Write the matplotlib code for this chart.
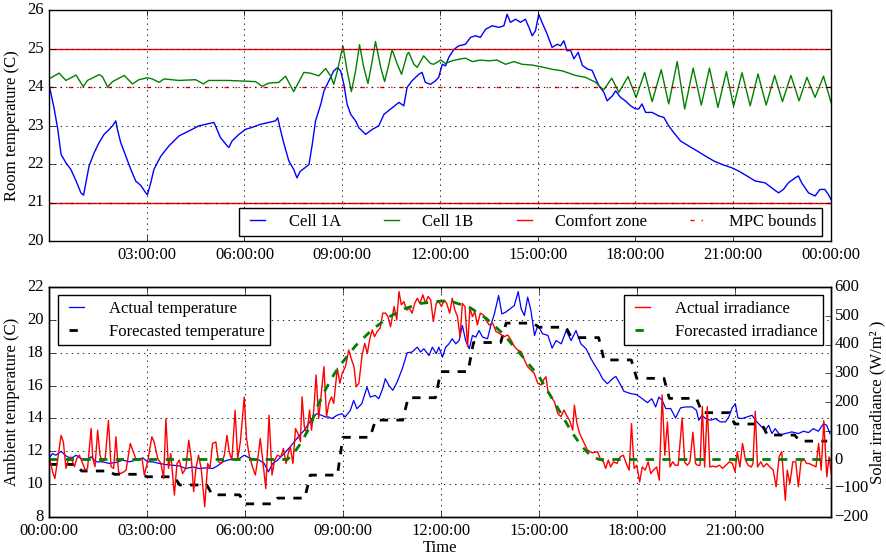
import numpy as np
import matplotlib
matplotlib.use('Agg')
import matplotlib.pyplot as plt
from matplotlib.ticker import FuncFormatter, MultipleLocator

# ---- Room temperatures (hours since midnight, deg C) ----
cell1a_hours = [0.0, 0.03, 0.16, 0.27, 0.37, 0.52, 0.67, 0.83, 0.98, 1.06, 1.13, 1.23, 1.39, 1.54,
                1.69, 1.85, 1.95, 2.05, 2.1, 2.2, 2.36, 2.51, 2.66, 2.82, 2.97, 3.02, 3.12, 3.22,
                3.43, 3.68, 3.99, 4.3, 4.6, 4.81, 5.06, 5.11, 5.26, 5.47, 5.52, 5.62, 5.83, 6.03,
                6.23, 6.49, 6.74, 6.95, 7.02, 7.1, 7.2, 7.36, 7.51, 7.61, 7.71, 7.85, 7.98, 8.08,
                8.18, 8.34, 8.44, 8.59, 8.74, 8.85, 8.95, 9.05, 9.15, 9.26, 9.41, 9.51, 9.72,
                9.92, 10.12, 10.28, 10.53, 10.74, 10.89, 10.99, 11.14, 11.35, 11.45, 11.55, 11.71,
                11.86, 11.96, 12.07, 12.17, 12.27, 12.43, 12.58, 12.78, 12.94, 13.09, 13.24, 13.4,
                13.6, 13.81, 13.96, 14.06, 14.16, 14.32, 14.47, 14.62, 14.73, 14.83, 14.93, 15.03,
                15.13, 15.29, 15.44, 15.6, 15.7, 15.8, 15.9, 16.01, 16.11, 16.24, 16.37, 16.52,
                16.67, 16.78, 16.88, 17.03, 17.13, 17.29, 17.39, 17.54, 17.69, 17.85, 18.0, 18.1,
                18.2, 18.31, 18.51, 18.71, 18.87, 19.02, 19.17, 19.38, 19.63, 19.89, 20.14, 20.4,
                20.65, 20.96, 21.16, 21.42, 21.67, 21.98, 22.18, 22.39, 22.54, 22.69, 22.9, 23.0,
                23.1, 23.31, 23.51, 23.66, 23.81, 23.92, 24.0]
cell1a_temp = [24.0, 23.95, 23.43, 22.9, 22.25, 22.03, 21.86, 21.56, 21.25, 21.19, 21.5, 21.95, 22.3,
               22.56, 22.77, 22.9, 22.99, 23.12, 22.9, 22.56, 22.2, 21.86, 21.56, 21.44, 21.25, 21.2,
               21.5, 21.86, 22.2, 22.47, 22.73, 22.86, 22.99, 23.03, 23.08, 22.99, 22.69, 22.47,
               22.43, 22.6, 22.77, 22.9, 22.95, 23.03, 23.08, 23.12, 23.2, 22.9, 22.56, 22.08, 21.86,
               21.64, 21.81, 21.9, 21.99, 22.51, 23.12, 23.55, 23.9, 24.16, 24.42, 24.5, 24.42,
               24.07, 23.55, 23.29, 23.12, 22.94, 22.77, 22.9, 22.99, 23.29, 23.46, 23.6, 23.51,
               23.99, 24.16, 24.33, 24.38, 24.12, 24.07, 24.16, 24.25, 24.59, 24.55, 24.77, 24.98,
               25.07, 25.11, 25.29, 25.33, 25.29, 25.5, 25.59, 25.55, 25.59, 25.89, 25.68, 25.76,
               25.68, 25.76, 25.55, 25.33, 25.46, 25.89, 25.68, 25.37, 25.03, 25.11, 25.07, 25.2,
               24.94, 24.95, 24.73, 24.9, 24.56, 24.47, 24.43, 24.21, 24.03, 23.86, 23.64, 23.77,
               23.9, 23.73, 23.64, 23.51, 23.43, 23.43, 23.56, 23.34, 23.34, 23.25, 23.21, 22.99,
               22.82, 22.6, 22.47, 22.34, 22.21, 22.08, 21.99, 21.9, 21.82, 21.69, 21.56, 21.51,
               21.38, 21.25, 21.34, 21.51, 21.64, 21.69, 21.51, 21.25, 21.17, 21.34, 21.34, 21.21,
               21.08]

cell1b_hours = [0.0, 0.31, 0.52, 0.83, 1.05, 1.18, 1.54, 1.64, 1.8, 1.95, 2.31, 2.56, 2.76, 3.02,
                3.17, 3.38, 3.53, 3.99, 4.5, 4.74, 4.9, 5.52, 6.34, 6.54, 6.74, 7.05, 7.26, 7.36,
                7.51, 7.66, 7.82, 8.02, 8.28, 8.49, 8.64, 8.74, 8.85, 9.02, 9.15, 9.28, 9.41, 9.53,
                9.66, 9.79, 9.92, 10.02, 10.18, 10.3, 10.43, 10.53, 10.69, 10.82, 10.99, 11.04,
                11.2, 11.3, 11.5, 11.71, 11.81, 12.02, 12.17, 12.37, 12.58, 12.78, 12.99, 13.24,
                13.5, 13.75, 14.01, 14.27, 14.52, 14.83, 15.13, 15.44, 15.75, 16.16, 16.47, 16.78,
                16.93, 17.03, 17.27, 17.49, 17.77, 18.02, 18.28, 18.51, 18.79, 19.02, 19.28, 19.51,
                19.77, 20.02, 20.27, 20.53, 20.79, 21.01, 21.27, 21.52, 21.76, 22.01, 22.27, 22.51,
                22.77, 23.02, 23.26, 23.51, 23.77, 24.0]
cell1b_temp = [24.21, 24.36, 24.17, 24.31, 24.01, 24.17, 24.32, 24.27, 24.0, 24.14, 24.3, 24.08,
               24.19, 24.24, 24.21, 24.12, 24.21, 24.17, 24.19, 24.08, 24.17, 24.17, 24.14, 24.02,
               24.1, 24.12, 24.28, 24.12, 23.88, 24.12, 24.38, 24.36, 24.29, 24.48, 24.29, 24.07,
               24.42, 25.07, 24.42, 23.88, 24.42, 25.1, 24.51, 24.09, 24.68, 25.18, 24.51, 24.14,
               24.59, 24.97, 24.59, 24.33, 24.85, 24.9, 24.59, 24.51, 24.81, 24.61, 24.59, 24.7,
               24.61, 24.68, 24.72, 24.75, 24.66, 24.7, 24.68, 24.7, 24.59, 24.66, 24.59, 24.57,
               24.52, 24.46, 24.42, 24.3, 24.25, 24.12, 23.99, 23.93, 24.23, 23.86, 24.27, 23.73,
               24.38, 23.62, 24.45, 23.56, 24.66, 23.43, 24.49, 23.53, 24.49, 23.47, 24.4, 23.5,
               24.37, 23.51, 24.34, 23.53, 24.3, 23.62, 24.3, 23.64, 24.25, 23.73, 24.28, 23.6]

comfort_zone = [21, 25]
mpc_bounds = [21, 24]

# ---- Ambient temperature (hours, deg C) ----
amb_hours = [0.03, 0.11, 0.21, 0.37, 0.52, 0.67, 0.83, 0.98, 1.13, 1.29, 1.44, 1.64, 1.85, 2.05,
             2.26, 2.46, 2.66, 2.87, 3.02, 3.17, 3.38, 3.58, 3.79, 3.99, 4.19, 4.4, 4.6, 4.81,
             5.01, 5.16, 5.32, 5.47, 5.62, 5.83, 5.98, 6.13, 6.29, 6.44, 6.59, 6.72, 6.85, 7.0,
             7.1, 7.2, 7.36, 7.51, 7.66, 7.82, 8.05, 8.2, 8.35, 8.46, 8.56, 8.66, 8.82, 8.97,
             9.07, 9.23, 9.33, 9.43, 9.58, 9.74, 9.84, 9.99, 10.1, 10.22, 10.3, 10.41, 10.53,
             10.66, 10.82, 10.97, 11.12, 11.28, 11.38, 11.48, 11.64, 11.74, 11.86, 11.94, 12.05,
             12.15, 12.25, 12.35, 12.46, 12.56, 12.66, 12.76, 12.87, 12.97, 13.07, 13.17, 13.28,
             13.43, 13.53, 13.64, 13.77, 13.87, 13.99, 14.12, 14.25, 14.37, 14.46, 14.56, 14.66,
             14.76, 14.87, 14.97, 15.12, 15.28, 15.41, 15.53, 15.69, 15.84, 15.99, 16.14, 16.29,
             16.45, 16.6, 16.75, 16.85, 16.95, 17.1, 17.26, 17.36, 17.46, 17.61, 17.82, 18.0,
             18.17, 18.33, 18.46, 18.58, 18.68, 18.78, 18.89, 19.04, 19.19, 19.34, 19.5, 19.7,
             19.83, 19.9, 20.0, 20.11, 20.26, 20.41, 20.56, 20.72, 20.82, 20.92, 21.02, 21.1,
             21.22, 21.38, 21.53, 21.68, 21.83, 21.94, 22.04, 22.14, 22.24, 22.39, 22.55, 22.75,
             22.95, 23.11, 23.26, 23.41, 23.56, 23.72, 23.82, 23.92]
amb_temp = [11.66, 11.86, 11.76, 12.0, 11.72, 11.56, 11.76, 11.56, 11.46, 11.66, 11.36, 11.36,
            11.26, 11.32, 11.46, 11.36, 11.46, 11.6, 11.36, 11.36, 11.26, 11.19, 11.15, 11.11,
            10.95, 11.05, 10.95, 10.99, 10.95, 11.11, 11.36, 11.46, 11.52, 11.56, 11.76, 11.6,
            11.52, 11.46, 11.26, 10.75, 11.26, 11.46, 11.66, 11.86, 12.21, 12.57, 12.94, 13.28,
            13.99, 14.29, 14.19, 14.09, 14.09, 13.99, 14.19, 14.29, 14.09, 14.49, 15.1, 14.59,
            14.9, 15.91, 15.3, 15.4, 15.2, 15.81, 16.42, 16.01, 15.71, 16.21, 17.02, 18.0, 18.04,
            18.34, 18.04, 18.24, 17.83, 18.34, 17.94, 18.34, 17.73, 18.34, 18.54, 18.85, 18.54,
            18.74, 19.66, 18.74, 18.24, 19.05, 18.95, 19.35, 18.95, 18.85, 19.66, 20.36, 21.48,
            20.36, 20.47, 20.67, 20.87, 21.72, 20.67, 20.26, 21.38, 20.57, 19.05, 19.66, 19.15,
            19.05, 18.28, 18.74, 18.54, 19.35, 18.74, 19.35, 18.54, 18.24, 17.63, 17.13, 16.82,
            16.42, 16.11, 16.42, 16.56, 16.21, 15.65, 15.51, 15.45, 15.2, 14.96, 15.2, 14.7,
            15.3, 15.1, 14.6, 14.6, 14.03, 14.64, 14.7, 14.7, 14.49, 13.89, 14.19, 13.99, 13.89,
            13.99, 13.79, 13.79, 14.09, 14.64, 14.9, 14.03, 13.99, 14.09, 14.19, 13.79, 13.48,
            13.28, 13.58, 13.08, 13.38, 12.98, 13.08, 13.18, 13.08, 13.22, 13.14, 13.38, 13.22,
            13.68, 13.58, 13.08]

# Forecasted temperature, one value per hour (deg C)
forecast_temp_hourly = [11.2, 10.8, 10.6, 10.45, 9.95, 9.35, 8.8, 9.15, 10.55, 12.85, 13.9,
                        15.26, 16.85, 18.62, 19.8, 19.55, 18.92, 17.56, 16.44, 15.22, 14.35,
                        13.66, 12.99, 12.62]

# ---- Solar irradiance (hours, W/m^2), rows of ten ----
irr_hours = [0.03, 0.11, 0.18, 0.27, 0.37, 0.44, 0.52, 0.59, 0.67, 0.78,
             0.85, 0.93, 1.03, 1.11, 1.18, 1.29, 1.34, 1.41, 1.49, 1.56,
             1.64, 1.72, 1.82, 1.9, 1.98, 2.05, 2.13, 2.2, 2.29, 2.36,
             2.49, 2.58, 2.66, 2.77, 2.85, 2.92, 3.02, 3.15, 3.22, 3.33,
             3.43, 3.51, 3.58, 3.66, 3.73, 3.84, 3.92, 3.99, 4.09, 4.19,
             4.28, 4.36, 4.43, 4.5, 4.58, 4.66, 4.77, 4.86, 4.93, 5.01,
             5.11, 5.19, 5.28, 5.37, 5.45, 5.52, 5.6, 5.7, 5.78, 5.86,
             5.98, 6.05, 6.13, 6.23, 6.32, 6.39, 6.47, 6.54, 6.64, 6.74,
             6.83, 6.91, 7.0, 7.1, 7.18, 7.26, 7.34,
             7.39, 7.47, 7.55, 7.62, 7.7, 7.75, 7.82, 7.9, 7.98, 8.04,
             8.11, 8.18, 8.26, 8.33, 8.42, 8.5, 8.57, 8.65, 8.72, 8.83,
             8.91, 8.98, 9.08, 9.18, 9.27, 9.34, 9.41, 9.49, 9.59, 9.67,
             9.75, 9.82, 9.9, 9.97, 10.05, 10.14, 10.22, 10.31, 10.38, 10.46,
             10.57, 10.65, 10.72, 10.79, 10.87, 10.95, 11.04, 11.12, 11.2, 11.28,
             11.36, 11.45, 11.53, 11.61, 11.69, 11.77, 11.86, 11.94, 12.02, 12.1,
             12.18, 12.27, 12.35, 12.43, 12.51, 12.59, 12.66, 12.74, 12.82, 12.89,
             12.97, 13.04, 13.12, 13.21, 13.3, 13.38, 13.48, 13.59, 13.69, 13.79,
             13.94, 14.05, 14.15, 14.25, 14.35, 14.46, 14.56, 14.66, 14.76, 14.86,
             14.97, 15.07, 15.14, 15.22, 15.29, 15.38, 15.48, 15.58, 15.68, 15.77,
             15.85, 15.94,
             16.04, 16.09, 16.17, 16.25, 16.37, 16.49, 16.64, 16.8, 16.9, 16.98,
             17.05, 17.13, 17.2, 17.29, 17.39, 17.49, 17.59, 17.68, 17.77, 17.84,
             17.92, 18.0, 18.09, 18.17, 18.26, 18.35, 18.43, 18.51, 18.61, 18.69,
             18.78, 18.86, 18.94, 19.02, 19.1, 19.18, 19.27, 19.39, 19.47, 19.55,
             19.63, 19.72, 19.8, 19.86, 19.94, 20.01, 20.08, 20.16, 20.24, 20.33,
             20.43, 20.53, 20.63, 20.73, 20.84, 20.93, 21.01, 21.08, 21.16, 21.24,
             21.33, 21.41, 21.51, 21.56, 21.63, 21.7, 21.8, 21.88, 21.98, 22.08,
             22.18, 22.27, 22.36, 22.44, 22.55, 22.61, 22.69, 22.78, 22.87, 22.95,
             23.03, 23.12, 23.2, 23.28, 23.39, 23.49, 23.57, 23.65, 23.73, 23.82,
             23.89, 23.96]
irr_wm2 = [-2, -43, -66, 3, 84, 61, -31, -2, 9, -25,
           3, 15, -14, -37, -31, 108, 3, -25, 102, 15,
           -8, 3, 136, -25, -31, 79, -43, -49, -43, -37,
           56, 27, 3, -2, 3, -54, -8, 79, 61, 3,
           -14, -66, 142, -31, 21, -124, -14, -2, -49, -31,
           67, 3, -112, -31, 15, -31, -164, -14, -31, 56,
           61, -8, -14, 15, 84, 27, -2, 171, 3, 61,
           217, 73, 15, -25, -54, -2, 73, 3, -101, 154,
           -54, -2, 15, 9, 38, -14, 27,
           44, -14, 108, 91, 62, 218, 114, 91, 172, 102,
           172, 294, 143, 218, 323, 149, 195, 218, 195, 317,
           265, 300, 323, 381, 346, 323, 253, 265, 364, 404,
           369, 416, 451, 427, 445, 456, 509, 509, 497, 462,
           532, 485, 584, 538, 549, 520, 526, 509, 543, 561,
           543, 573, 543, 567, 555, 480, 543, 549, 532, 555,
           543, 509, 561, 520, 497, 427, 543, 532, 393, 526,
           497, 514, 468, 509, 503, 485, 468, 474, 445, 439,
           427, 433, 416, 393, 381, 375, 346, 323, 311, 300,
           265, 259, 276, 288, 230, 218, 201, 160, 149, 172,
           154, 137,
           102, 189, 125, 91, 62, 33, 23, 27, -2, -8,
           -31, -2, -26, -8, -14, 9, 15, -14, -37, 125,
           -31, -20, -78, -26, -37, -8, -49, -37, -26, -72,
           225, 15, 131, -26, -8, -20, -20, 145, -10, -20,
           -8, 95, -14, -20, -20, 184, -26, 184, -26, -23,
           -26, -20, -31, -20, -8, -14, -43, 27, -26, 56,
           -2, -20, -26, -14, 168, -26, -8, -26, -14, -26,
           -37, -95, 9, 27, -142, -37, -84, -8, -8, -95,
           -8, 3, -14, -14, -20, -26, 56, -37, 135, -60,
           9, -49]

forecast_irr_hours = [0.0, 7.3, 7.5, 7.7, 7.9, 8.0, 8.2, 8.5, 8.75, 9.0, 9.4, 9.9, 10.4, 10.9,
                      11.4, 12.0, 12.4, 12.9, 13.4, 13.9, 14.4, 15.0, 15.5, 16.0, 16.3, 16.6,
                      16.85, 23.95]
forecast_irr_wm2 = [0, 0, 22, 55, 95, 115, 180, 250, 300, 340, 397, 452, 495, 525, 543, 551, 547,
                    528, 490, 438, 372, 290, 195, 97, 48, 12, 0, 0]

# Build the forecast temperature line: each hourly value is held for 50 minutes
fc_hours = []
fc_temp = []
for h, v in enumerate(forecast_temp_hourly):
    fc_hours += [h, h + 5.0 / 6.0]
    fc_temp += [v, v]

# Style
plt.style.use('classic')
plt.rcParams['font.family'] = 'serif'
plt.rcParams['font.serif'] = ['Liberation Serif', 'DejaVu Serif']
plt.rcParams['mathtext.fontset'] = 'stix'
plt.rcParams['font.size'] = 12
plt.rcParams['figure.facecolor'] = 'white'
plt.rcParams['savefig.facecolor'] = 'white'

time_fmt = FuncFormatter(lambda h, pos: '%02d:00:00' % (int(round(h)) % 24))

fig = plt.figure(figsize=(8.87, 5.59), dpi=100)
ax1 = fig.add_axes([49 / 887., 1 - 241 / 559., 782 / 887., 231 / 559.])
ax3 = fig.add_axes([49 / 887., 1 - 517 / 559., 782 / 887., 230 / 559.])

# Top plot: room temperature
l1, = ax1.plot(cell1a_hours, cell1a_temp, color='b', lw=1.0, label='Cell 1A')
l2, = ax1.plot(cell1b_hours, cell1b_temp, color='g', lw=1.0, label='Cell 1B')
comfort_lines = [ax1.axhline(c, color='r', lw=1.0, ls='-') for c in comfort_zone]
mpc_lines = [ax1.axhline(m, color='r', lw=1.0, ls='-.') for m in mpc_bounds]
ax1.set_xlim(0, 24)
ax1.set_ylim(20, 26)
ax1.set_xticks(np.arange(3, 25, 3))
ax1.xaxis.set_major_formatter(time_fmt)
ax1.yaxis.set_major_locator(MultipleLocator(1))
ax1.set_ylabel('Room temperature (C)')
ax1.grid(True, color='k', ls=':', lw=0.6)
ax1.legend([l1, l2, comfort_lines[0], mpc_lines[0]],
           ['Cell 1A', 'Cell 1B', 'Comfort zone', 'MPC bounds'],
           loc='lower right', bbox_to_anchor=(0.9885, 0.022),
           borderaxespad=0, ncol=4, fontsize=12, handlelength=1.5, handletextpad=1.1,
           columnspacing=2.3, borderpad=0.35, fancybox=False)

# Bottom plot: ambient temperature and irradiance
ax4 = ax3.twinx()
a1, = ax3.plot(amb_hours, amb_temp, color='b', lw=0.9, label='Actual temperature')
a2, = ax3.plot(fc_hours, fc_temp, color='k', lw=2.0, ls='--', label='Forecasted temperature')
b1, = ax4.plot(irr_hours, irr_wm2, color='r', lw=1.0, label='Actual irradiance')
b2, = ax4.plot(forecast_irr_hours, forecast_irr_wm2, color='g', lw=2.0, ls='--',
               label='Forecasted irradiance')
ax3.set_xlim(0, 23.95)
ax3.set_ylim(8, 22)
ax4.set_ylim(-200, 600)
ax3.set_xticks(np.arange(0, 22, 3))
ax3.xaxis.set_major_formatter(time_fmt)
ax3.yaxis.set_major_locator(MultipleLocator(2))
ax4.yaxis.set_major_locator(MultipleLocator(100))
ax4.tick_params(axis='y', pad=2.5)
ax3.set_ylabel('Ambient temperature (C)')
ax4.set_ylabel('Solar irradiance (W/m\u00b2 )')
ax4.yaxis.set_label_coords(1.049, 0.5)
ax3.set_xlabel('Time', labelpad=1)
ax3.grid(True, color='k', ls=':', lw=0.6)

leg_a = ax4.legend(handles=[a1, a2], loc='upper left', bbox_to_anchor=(0.0115, 0.965),
                   borderaxespad=0, fontsize=12, handlelength=1.5, handletextpad=1.2,
                   labelspacing=0.4, borderpad=0.35, fancybox=False)
ax4.add_artist(leg_a)
ax4.legend(handles=[b1, b2], loc='upper right', bbox_to_anchor=(0.9898, 0.965),
           borderaxespad=0, fontsize=12, handlelength=1.5, handletextpad=1.2,
           labelspacing=0.4, borderpad=0.35, fancybox=False)

fig.savefig('out.png', dpi=100)
